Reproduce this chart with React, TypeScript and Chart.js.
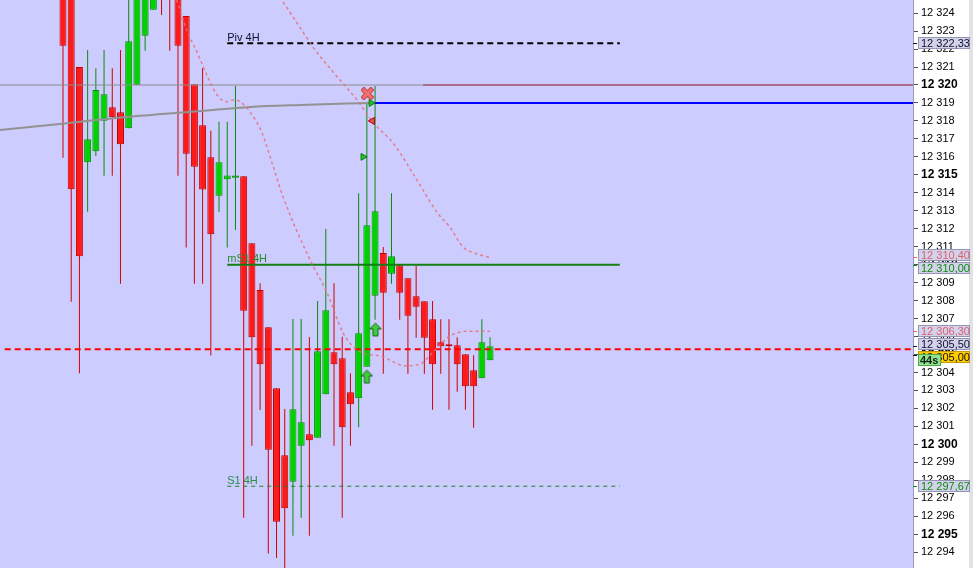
import React, { useEffect, useRef } from 'react';
import { Chart, registerables } from 'chart.js';

Chart.register(...registerables);

// ---------- candle data (bar index 0..52) ----------
const opens = [
  12327.0, 12325.5, 12321.0, 12315.7, 12316.31, 12318.01, 12318.76, 12318.48, 12317.59, 12320.02,
  12322.74, 12324.19, 12328.0, 12326.5, 12325.5, 12323.84, 12320.04, 12317.76, 12315.98, 12313.84,
  12314.75, 12314.84, 12314.92, 12311.19, 12308.59, 12306.52, 12303.12, 12299.39, 12297.92, 12299.93,
  12300.56, 12300.37, 12302.79, 12305.12, 12304.79, 12302.9, 12302.56, 12304.32, 12308.27, 12310.65,
  12309.5, 12309.97, 12309.24, 12308.24, 12307.96, 12306.96, 12305.68, 12305.57, 12305.51, 12305.01,
  12304.12, 12303.68, 12304.68,
];
const highs = [
  12328.0, 12326.0, 12321.0, 12321.95, 12320.93, 12321.95, 12320.93, 12321.95, 12325.0, 12326.0,
  12327.0, 12328.0, 12328.5, 12327.0, 12326.0, 12323.84, 12320.04, 12320.93, 12317.46, 12317.96,
  12317.96, 12319.94, 12314.92, 12311.19, 12308.96, 12306.52, 12303.12, 12301.97, 12306.98, 12306.98,
  12305.98, 12307.98, 12311.99, 12308.96, 12305.99, 12303.96, 12313.97, 12318.98, 12319.94, 12310.98,
  12313.97, 12309.97, 12309.24, 12309.93, 12307.96, 12307.98, 12306.96, 12306.96, 12305.96, 12305.01,
  12304.96, 12306.96, 12305.96,
];
const lows = [
  12315.95, 12307.94, 12303.96, 12312.95, 12316.05, 12314.95, 12314.95, 12308.94, 12317.59, 12320.02,
  12321.91, 12324.19, 12323.9, 12321.91, 12314.95, 12310.95, 12308.94, 12308.94, 12304.94, 12312.95,
  12310.95, 12311.93, 12295.92, 12299.93, 12301.91, 12293.92, 12293.68, 12292.9, 12294.92, 12295.92,
  12294.92, 12300.37, 12302.79, 12299.93, 12295.92, 12299.93, 12300.95, 12304.32, 12306.94, 12303.93,
  12308.94, 12306.94, 12303.93, 12305.94, 12303.93, 12301.93, 12303.93, 12301.93, 12302.93, 12301.93,
  12300.93, 12303.68, 12304.68,
];
const closes = [
  12322.19, 12314.2, 12310.47, 12316.98, 12319.72, 12319.48, 12318.2, 12316.7, 12322.43, 12325.5,
  12326.5, 12327.5, 12326.0, 12325.5, 12322.19, 12316.18, 12315.45, 12314.18, 12311.69, 12315.7,
  12314.97, 12314.97, 12307.44, 12305.96, 12304.46, 12299.7, 12295.7, 12296.44, 12301.95, 12301.23,
  12300.23, 12305.18, 12307.46, 12304.46, 12300.95, 12302.23, 12306.18, 12312.19, 12312.97, 12308.44,
  12310.47, 12308.44, 12307.16, 12307.66, 12305.94, 12304.46, 12305.46, 12305.46, 12304.46, 12303.23,
  12303.23, 12305.68, 12305.46,
];

// ---------- moving average (grey) ----------
const maIdx = [-7.7, -0.4, 7.6, 16.7, 22.8, 28.9, 37.4];
const maVal = [12317.5, 12317.83, 12318.22, 12318.55, 12318.78, 12318.89, 12319.0];

// ---------- envelope bands (pink dashed) ----------
const upperIdx = [26.8, 28.5, 30.7, 33.4, 35.8, 37.8, 40.2, 43.1, 45.6, 47.1, 48.7, 50.4, 52.0];
const upperVal = [12324.62, 12323.45, 12321.95, 12320.45, 12319.17, 12317.89, 12316.77, 12314.71, 12312.88, 12312.1, 12310.99, 12310.6, 12310.4];
const lowerIdx = [13.85, 15.07, 16.48, 17.7, 18.92, 19.94, 20.74, 21.56, 22.78, 24.24, 25.46, 26.8, 30.09, 32.16, 34.1, 35.81, 38.98, 41.66, 43.73, 45.07, 47.14, 49.57, 52.0];
const lowerVal = [12324.73, 12323.06, 12321.67, 12320.37, 12319.35, 12319.07, 12319.17, 12319.07, 12318.5, 12317.33, 12315.66, 12313.77, 12310.26, 12308.43, 12306.21, 12305.26, 12304.87, 12304.37, 12304.53, 12305.14, 12306.03, 12306.3, 12306.3];

// ---------- levels ----------
const levelNames = ['Piv 4H', 'mS1 4H', 'S1 4H'];
const levelValues = [12322.33, 12310.0, 12297.67];
const levelStartIdx = 20;
const levelEndIdx = 67.8;
const lastPriceLine = 12305.3;
const roundLevel = 12320;
const roundSplitIdx = 43.85;
const signalLevel = 12319;
const signalStartIdx = 38;

// ---------- markers ----------
const crossIdx = [37.06];
const crossVal = [12319.52];
const buyTriIdx = [37.52, 36.54];
const buyTriVal = [12319.0, 12316.0];
const sellTriIdx = [37.67];
const sellTriVal = [12318.0];
const arrowIdx = [38.04, 37.0];
const arrowVal = [12306.37, 12303.75];

// ---------- axis boxes ----------
const boxValues = [12322.33, 12310.4, 12310.0, 12306.3, 12305.5, 12305.0, 12297.67];
const boxKinds = ['pivot', 'band', 'support', 'band', 'pivot', 'price', 'support'];
const countdownText = '44s';

const X_MIN = -7.67;
const X_MAX = 103.5;
const Y_MIN = 12293.12;
const Y_MAX = 12324.73;

const FONT = '"Liberation Sans", Arial, sans-serif';

const fmtInt = (v: number) => {
  const r = Math.round(v);
  return `${Math.floor(r / 1000)} ${String(r % 1000).padStart(3, '0')}`;
};
const fmtDec = (v: number) => {
  const s = v.toFixed(2);
  const [ip, dp] = s.split('.');
  const n = parseInt(ip, 10);
  return `${Math.floor(n / 1000)} ${String(n % 1000).padStart(3, '0')},${dp}`;
};

const boxStyles: Record<string, { fill: string; stroke: string; text: string }> = {
  pivot: { fill: '#D2D2EA', stroke: '#9494B4', text: '#101030' },
  band: { fill: '#D2D2EA', stroke: '#9494B4', text: '#E0606E' },
  support: { fill: '#D2D2EA', stroke: '#9494B4', text: '#108A10' },
  price: { fill: '#FFCC00', stroke: '#C89A00', text: '#101010' },
};

function makeArrow(): HTMLCanvasElement {
  const c = document.createElement('canvas');
  c.width = 13;
  c.height = 15;
  const g = c.getContext('2d')!;
  g.beginPath();
  g.moveTo(6.5, 0.8);
  g.lineTo(12.2, 6.5);
  g.lineTo(9, 6.5);
  g.lineTo(9, 13.5);
  g.lineTo(4, 13.5);
  g.lineTo(4, 6.5);
  g.lineTo(0.8, 6.5);
  g.closePath();
  g.fillStyle = '#44C844';
  g.fill();
  g.strokeStyle = '#0E6E0E';
  g.lineWidth = 1;
  g.stroke();
  return c;
}

function makeCross(): HTMLCanvasElement {
  const c = document.createElement('canvas');
  c.width = 13;
  c.height = 13;
  const g = c.getContext('2d')!;
  g.lineCap = 'square';
  g.strokeStyle = '#C83C3C';
  g.lineWidth = 5;
  g.beginPath();
  g.moveTo(3, 3);
  g.lineTo(10, 10);
  g.moveTo(10, 3);
  g.lineTo(3, 10);
  g.stroke();
  g.strokeStyle = '#F27272';
  g.lineWidth = 3;
  g.beginPath();
  g.moveTo(3, 3);
  g.lineTo(10, 10);
  g.moveTo(10, 3);
  g.lineTo(3, 10);
  g.stroke();
  return c;
}

const pts = (xs: number[], ys: number[]) => xs.map((x, i) => ({ x, y: ys[i] }));

export default function App() {
  const ref = useRef<HTMLCanvasElement | null>(null);

  useEffect(() => {
    document.body.style.margin = '0';
    document.body.style.padding = '0';
    document.body.style.overflow = 'hidden';
    if (!ref.current) return;
    const idx = opens.map((_, i) => i);
    const up = idx.map((i) => closes[i] >= opens[i]);

    const arrowImg = makeArrow();
    const crossImg = makeCross();

    const bgPlugin = {
      id: 'bg',
      beforeDraw(chart: any) {
        const { ctx, chartArea, width, height } = chart;
        ctx.save();
        ctx.fillStyle = '#FFFFFF';
        ctx.fillRect(0, 0, width, height);
        ctx.fillStyle = '#CCCCFF';
        ctx.fillRect(chartArea.left, chartArea.top, chartArea.right - chartArea.left, chartArea.bottom - chartArea.top);
        ctx.fillStyle = '#E2E2E6';
        ctx.fillRect(width - 4, 0, 4, height);
        ctx.restore();
      },
    };

    const labelPlugin = {
      id: 'levelLabels',
      afterDatasetsDraw(chart: any) {
        const { ctx, scales } = chart;
        const colors = ['#101030', '#2A8A2A', '#2A8A4A'];
        ctx.save();
        ctx.font = `11px ${FONT}`;
        ctx.textAlign = 'left';
        ctx.textBaseline = 'alphabetic';
        levelNames.forEach((name, i) => {
          ctx.fillStyle = colors[i];
          ctx.fillText(name, scales.x.getPixelForValue(levelStartIdx), scales.y.getPixelForValue(levelValues[i]) - 2.5);
        });
        ctx.restore();
      },
    };

    const boxPlugin = {
      id: 'axisBoxes',
      afterDraw(chart: any) {
        const { ctx, scales, chartArea } = chart;
        const h = 12;
        const gap = 1;
        const items = boxValues
          .map((v, i) => ({ v, kind: boxKinds[i], py: scales.y.getPixelForValue(v) }))
          .sort((a, b) => a.py - b.py);
        type G = { items: typeof items; top: number };
        const groups: G[] = [];
        const layout = (g: G) => {
          const n = g.items.length;
          const c = g.items.reduce((s, it) => s + it.py, 0) / n;
          g.top = c - (n * h + (n - 1) * gap) / 2;
        };
        items.forEach((it) => {
          const g: G = { items: [it], top: 0 };
          layout(g);
          groups.push(g);
          while (groups.length > 1) {
            const a = groups[groups.length - 2];
            const b = groups[groups.length - 1];
            const aBottom = a.top + a.items.length * (h + gap);
            if (aBottom > b.top) {
              a.items = a.items.concat(b.items);
              layout(a);
              groups.pop();
            } else break;
          }
        });
        const x0 = chartArea.right + 5;
        const w = 52;
        ctx.save();
        ctx.font = `11px ${FONT}`;
        ctx.textBaseline = 'middle';
        ctx.textAlign = 'left';
        let priceTop = 0;
        groups.forEach((g) => {
          g.items.forEach((it, k) => {
            const st = boxStyles[it.kind];
            const top = g.top + k * (h + gap);
            ctx.strokeStyle = st.text;
            ctx.lineWidth = 1;
            ctx.beginPath();
            ctx.moveTo(chartArea.right, Math.round(it.py) + 0.5);
            ctx.lineTo(chartArea.right + 4, Math.round(it.py) + 0.5);
            ctx.stroke();
            ctx.fillStyle = st.fill;
            ctx.fillRect(x0, Math.round(top), w, h);
            ctx.strokeStyle = st.stroke;
            ctx.strokeRect(x0 + 0.5, Math.round(top) + 0.5, w - 1, h - 1);
            ctx.fillStyle = st.text;
            ctx.fillText(fmtDec(it.v), x0 + 3, Math.round(top) + h / 2 + 0.5);
            if (it.kind === 'price') priceTop = Math.round(top);
          });
        });
        const cy = priceTop + 3;
        ctx.fillStyle = '#92E492';
        ctx.fillRect(x0, cy, 23, 12);
        ctx.strokeStyle = '#4CA84C';
        ctx.strokeRect(x0 + 0.5, cy + 0.5, 22, 11);
        ctx.fillStyle = '#102010';
        ctx.font = `bold 11px ${FONT}`;
        ctx.fillText(countdownText, x0 + 2, cy + 6.5);
        ctx.restore();
      },
    };

    const hLine = (x1: number, x2: number, v: number) => [
      { x: x1, y: v },
      { x: x2, y: v },
    ];

    const lineBase = {
      type: 'line' as const,
      pointRadius: 0,
      pointHoverRadius: 0,
      fill: false,
      tension: 0,
    };

    const chart = new Chart(ref.current, {
      type: 'bar',
      data: {
        datasets: [
          {
            type: 'scatter',
            data: pts(crossIdx, crossVal),
            pointStyle: crossImg,
            pointRadius: 6,
            order: 0,
          } as any,
          {
            type: 'scatter',
            data: pts(arrowIdx, arrowVal),
            pointStyle: arrowImg,
            pointRadius: 6,
            order: 0,
          } as any,
          {
            type: 'scatter',
            data: pts(buyTriIdx, buyTriVal),
            pointStyle: 'triangle',
            rotation: 90,
            pointRadius: 4,
            backgroundColor: '#22C022',
            borderColor: '#0A7A0A',
            borderWidth: 1,
            order: 0,
          } as any,
          {
            type: 'scatter',
            data: pts(sellTriIdx, sellTriVal),
            pointStyle: 'triangle',
            rotation: -90,
            pointRadius: 4,
            backgroundColor: '#F05050',
            borderColor: '#B00000',
            borderWidth: 1,
            order: 0,
          } as any,
          {
            ...lineBase,
            data: pts(upperIdx, upperVal),
            borderColor: 'rgba(232,112,122,0.85)',
            borderWidth: 1.5,
            borderDash: [3, 3],
            cubicInterpolationMode: 'monotone',
            order: 1,
          } as any,
          {
            ...lineBase,
            data: pts(lowerIdx, lowerVal),
            borderColor: 'rgba(232,112,122,0.85)',
            borderWidth: 1.5,
            borderDash: [3, 3],
            cubicInterpolationMode: 'monotone',
            order: 1,
          } as any,
          {
            ...lineBase,
            data: pts(maIdx, maVal),
            borderColor: '#929292',
            borderWidth: 2,
            cubicInterpolationMode: 'monotone',
            order: 2,
          } as any,
          {
            ...lineBase,
            data: hLine(levelStartIdx, levelEndIdx, levelValues[0]),
            borderColor: '#000000',
            borderWidth: 2,
            borderDash: [6, 4],
            order: 2,
          } as any,
          {
            ...lineBase,
            data: hLine(levelStartIdx, levelEndIdx, levelValues[1]),
            borderColor: '#118011',
            borderWidth: 2,
            order: 2,
          } as any,
          {
            ...lineBase,
            data: hLine(levelStartIdx, levelEndIdx, levelValues[2]),
            borderColor: '#1E7E1E',
            borderWidth: 1,
            borderDash: [4, 4],
            order: 2,
          } as any,
          {
            ...lineBase,
            data: hLine(-7.1, X_MAX, lastPriceLine),
            borderColor: '#FF0000',
            borderWidth: 2,
            borderDash: [6, 4],
            order: 2,
          } as any,
          {
            ...lineBase,
            data: hLine(X_MIN, roundSplitIdx, roundLevel),
            borderColor: '#8C8C8C',
            borderWidth: 1,
            order: 3,
          } as any,
          {
            ...lineBase,
            data: hLine(roundSplitIdx, X_MAX, roundLevel),
            borderColor: '#8A1010',
            borderWidth: 1,
            order: 3,
          } as any,
          {
            ...lineBase,
            data: hLine(signalStartIdx, X_MAX, signalLevel),
            borderColor: '#0000FF',
            borderWidth: 2,
            order: 2,
          } as any,
          {
            type: 'bar',
            data: idx.map((i) => ({ x: i, y: [opens[i], closes[i]] })),
            backgroundColor: up.map((u) => (u ? '#00D200' : '#FF1A1A')),
            borderColor: up.map((u) => (u ? '#088A08' : '#C00000')),
            borderWidth: 1,
            borderSkipped: false,
            barThickness: 7,
            grouped: false,
            inflateAmount: 0,
            order: 10,
          } as any,
          {
            type: 'bar',
            data: idx.map((i) => ({ x: i, y: [lows[i], highs[i]] })),
            backgroundColor: up.map((u) => (u ? '#0A8A0A' : '#D00000')),
            borderWidth: 0,
            barThickness: 1,
            grouped: false,
            inflateAmount: 0,
            order: 11,
          } as any,
        ],
      },
      options: {
        animation: false,
        responsive: true,
        maintainAspectRatio: false,
        layout: { padding: 0, autoPadding: false },
        plugins: {
          legend: { display: false },
          tooltip: { enabled: false },
        },
        scales: {
          x: {
            type: 'linear',
            min: X_MIN,
            max: X_MAX,
            display: false,
            offset: false,
          },
          y: {
            type: 'linear',
            position: 'right',
            min: Y_MIN,
            max: Y_MAX,
            ticks: {
              stepSize: 1,
              autoSkip: false,
              includeBounds: false,
              padding: 3,
              color: '#000000',
              font: (c: any) =>
                c.tick && Math.round(c.tick.value) % 5 === 0
                  ? { family: FONT, size: 12, weight: 'bold' }
                  : { family: FONT, size: 11, weight: 'normal' },
              callback: (v: any) => fmtInt(Number(v)),
            },
            grid: {
              drawOnChartArea: false,
              drawTicks: true,
              tickLength: 5,
              tickColor: '#505050',
            },
            border: { display: true, color: '#9A9AB4', width: 1 },
            afterFit: (s: any) => {
              s.width = 60;
              s.paddingTop = 0;
              s.paddingBottom = 0;
            },
          } as any,
        },
      } as any,
      plugins: [bgPlugin, labelPlugin, boxPlugin],
    });

    return () => chart.destroy();
  }, []);

  return (
    <div style={{ position: 'relative', width: 973, height: 568 }}>
      <canvas ref={ref} />
    </div>
  );
}
